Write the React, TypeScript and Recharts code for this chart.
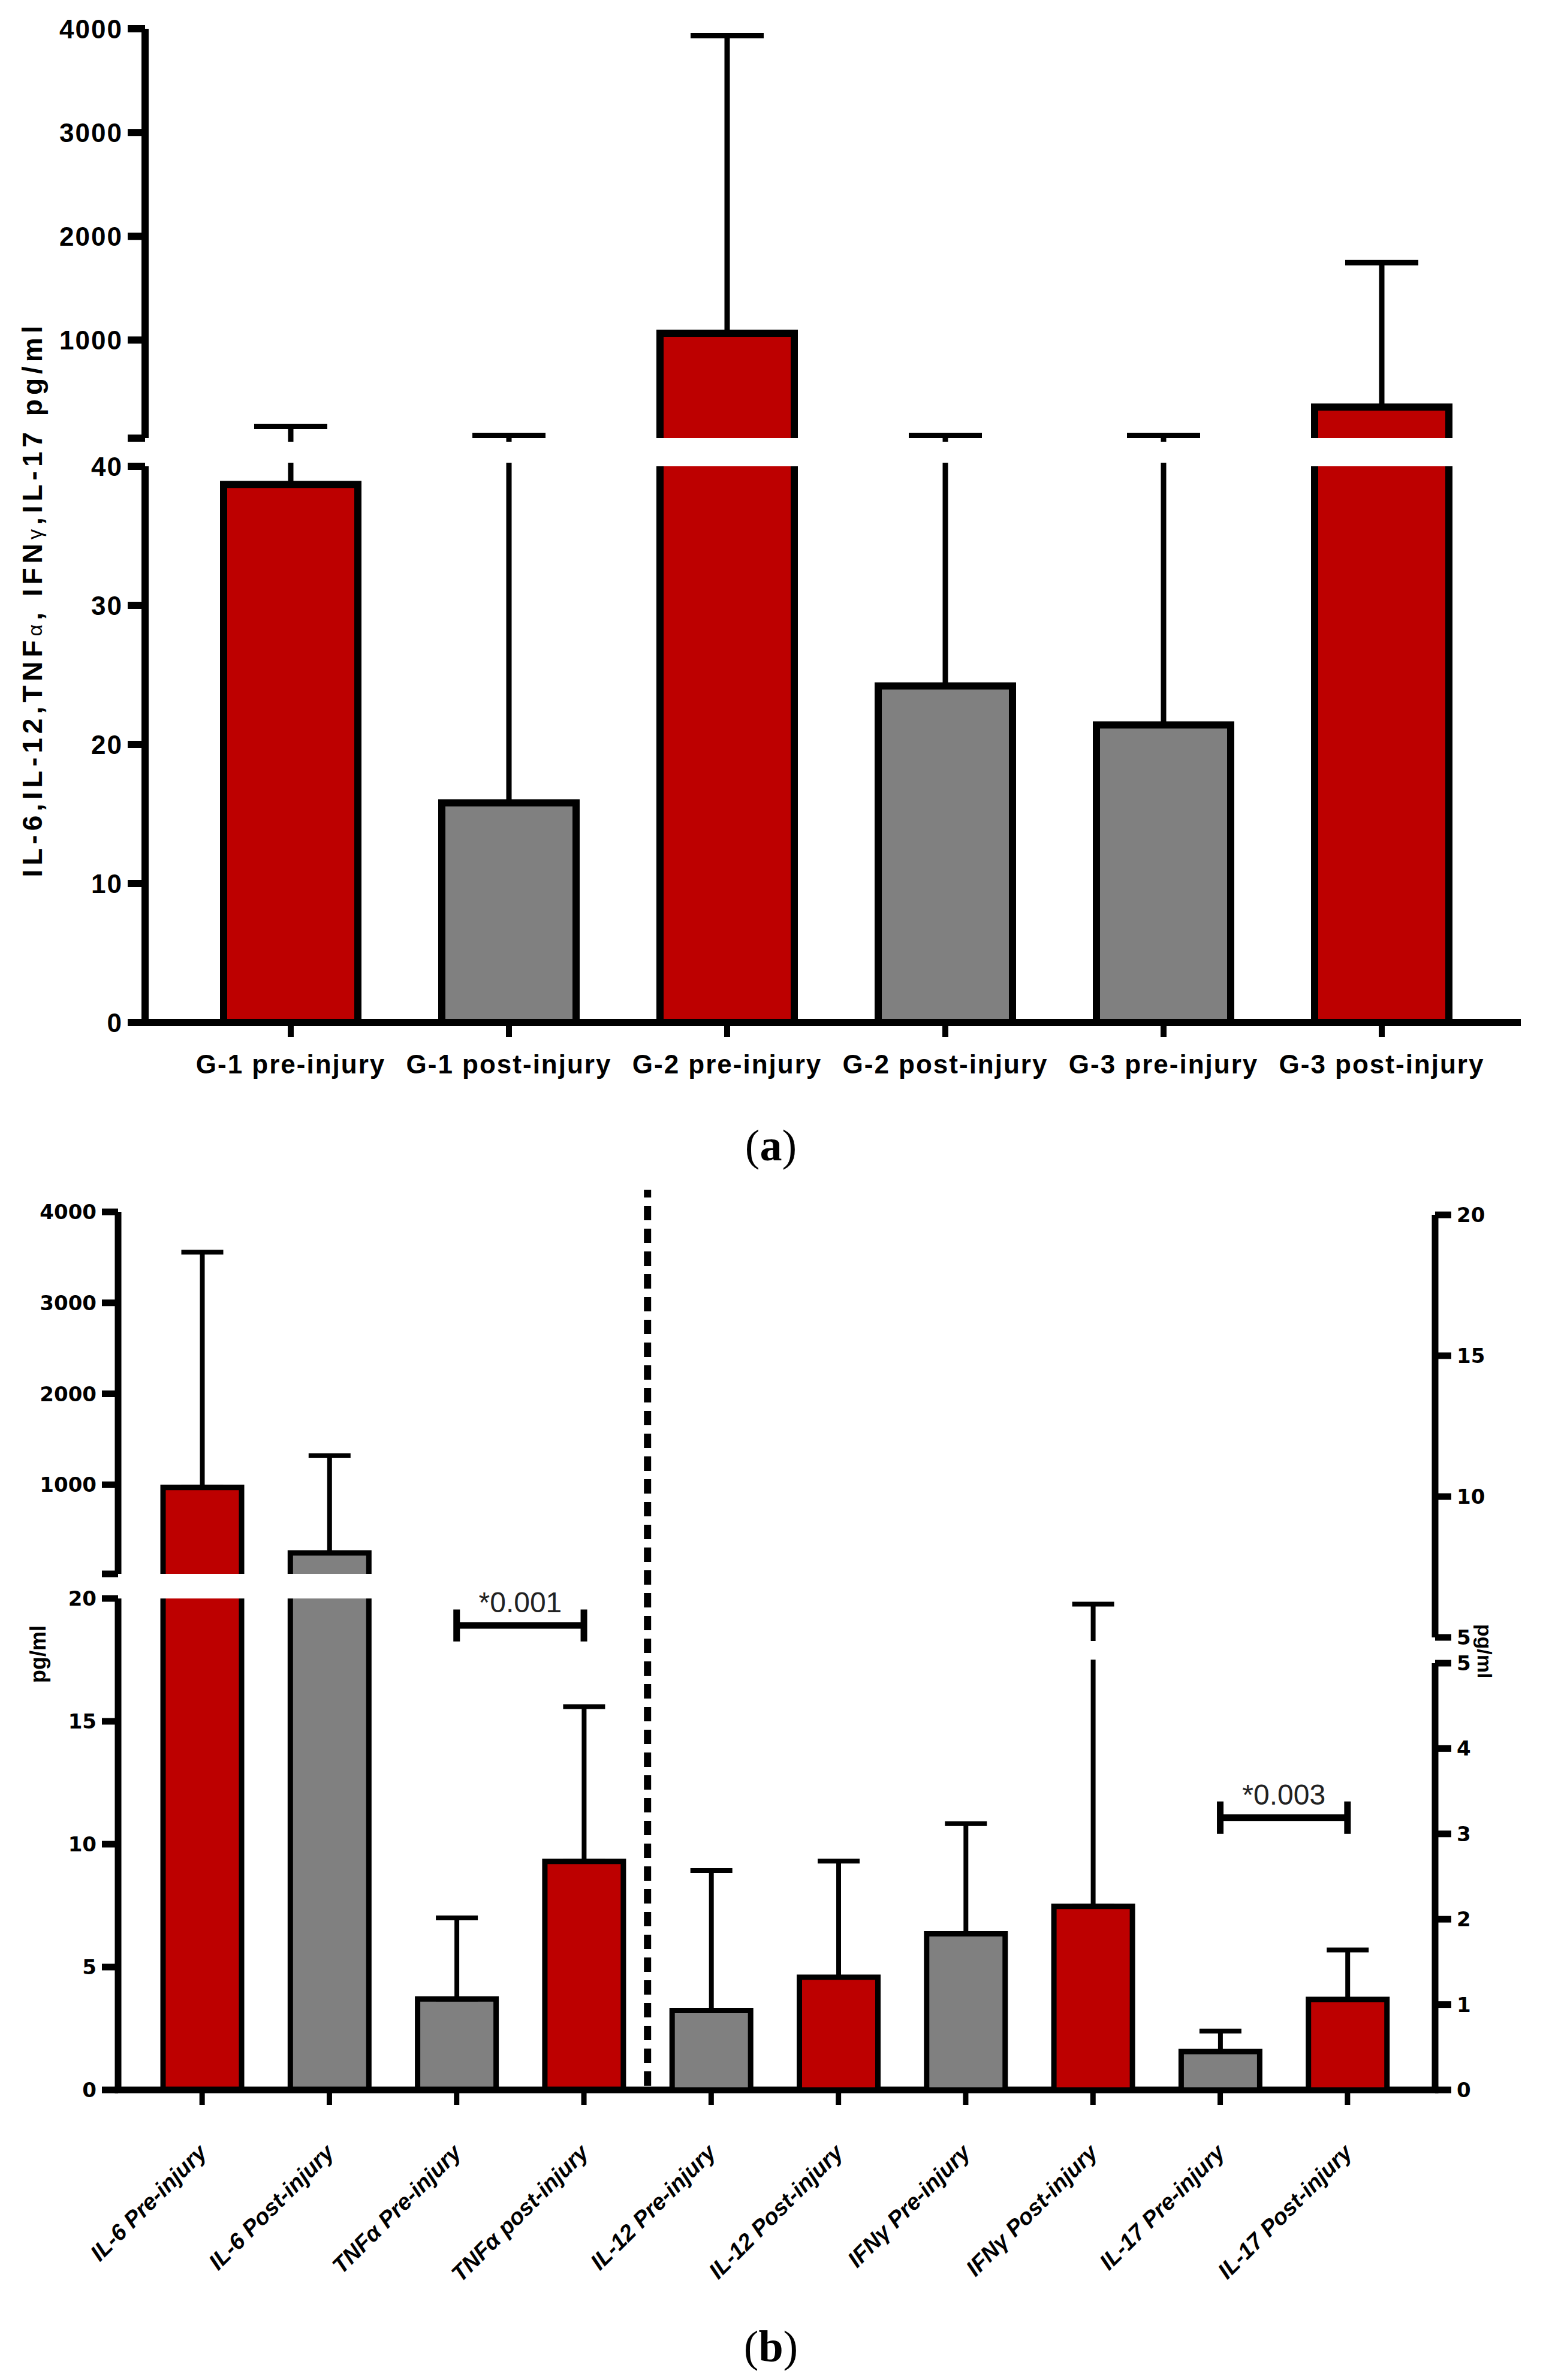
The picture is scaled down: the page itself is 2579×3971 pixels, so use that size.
import React from 'react';
import { BarChart, Bar, Cell, ErrorBar, XAxis, YAxis, ReferenceLine } from 'recharts';

// panel (a): one cytokine pool, three groups before / after injury
const GROUPS_A = [
  'G-1 pre-injury',
  'G-1 post-injury',
  'G-2 pre-injury',
  'G-2 post-injury',
  'G-3 pre-injury',
  'G-3 post-injury',
];
const MEAN_A = [38.7, 15.8, 1066, 24.2, 21.4, 354];
const UPPER_A = [168, 81, 3934, 81, 81, 1746]; // top of the error whisker
const LOW_TICKS_A = [0, 10, 20, 30, 40];
const HIGH_TICKS_A = [55, 1000, 2000, 3000, 4000];

// panel (b): each cytokine before / after injury
const MARKERS_B = [
  'IL-6 Pre-injury',
  'IL-6 Post-injury',
  'TNFα Pre-injury',
  'TNFα post-injury',
  'IL-12 Pre-injury',
  'IL-12 Post-injury',
  'IFNγ Pre-injury',
  'IFNγ Post-injury',
  'IL-17 Pre-injury',
  'IL-17 Post-injury',
];
const MEAN_B = [970, 250, 3.7, 9.3, 0.93, 1.32, 1.83, 2.15, 0.45, 1.06];
const UPPER_B = [3557, 1320, 7.0, 15.6, 2.57, 2.68, 3.12, 6.18, 0.69, 1.64];
const LEFT_AXIS_COUNT_B = 4; // first four markers use the left axis
const LEFT_LOW_TICKS_B = [0, 5, 10, 15, 20];
const LEFT_HIGH_TICKS_B = [20, 1000, 2000, 3000, 4000];
const RIGHT_LOW_TICKS_B = [0, 1, 2, 3, 4, 5];
const RIGHT_HIGH_TICKS_B = [5, 10, 15, 20];
const SIG_LEFT_B = { from: 'TNFα Pre-injury', to: 'TNFα post-injury', y: 18.9, text: '*0.001' };
const SIG_RIGHT_B = { from: 'IL-17 Pre-injury', to: 'IL-17 Post-injury', y: 3.19, text: '*0.003' };

// styles
const RED = '#bd0000';
const GREY = '#808080';
const FILL_A = [RED, GREY, RED, GREY, GREY, RED];
const FILL_B = [RED, GREY, GREY, RED, GREY, RED, GREY, RED, GREY, RED];
const W = 2579;
const YW = 100; // space given to a visible y axis

type Row = { name: string; mean: number | null; range: number[] | null; err: number[] | null };

// rows for one segment of a broken axis; upper segments draw bars as ranges from far below
function buildRows(
  names: string[], means: number[], uppers: number[], keep: (i: number) => boolean,
  domain: number[], upperSeg: boolean,
): Row[] {
  const [lo, hi] = domain;
  const base = lo - (hi - lo);
  return names.map((name, i) => {
    const v = means[i];
    const up = uppers[i];
    if (!keep(i)) return { name, mean: null, range: null, err: null };
    if (!upperSeg) return { name, mean: v, range: null, err: [0, up - v] };
    if (up < lo) return { name, mean: v, range: [base, v], err: null };
    // whisker coming up from a bar below the break: start it far below so no cap shows
    return { name, mean: v, range: [base, v], err: [v < lo ? v - base : 0, up - v] };
  });
}

const tickA = { fontSize: 44, fontWeight: 700, fill: '#000', fontFamily: 'Liberation Sans', letterSpacing: 2 };
const tickB = { fontSize: 34, fontWeight: 700, fill: '#000', fontFamily: 'DejaVu Sans' };

function SlantTick(props: any) {
  const { x, y, payload } = props;
  return (
    <g transform={`translate(${x + 10},${y + 82})`}>
      <text
        transform="rotate(-45)"
        textAnchor="end"
        fontFamily="Liberation Sans"
        fontWeight={700}
        fontStyle="italic"
        fontSize={38}
        fill="#000"
      >
        {payload.value}
      </text>
    </g>
  );
}

function chartMargin(top: number, height: number, plot: any, side: string | null, withX: boolean) {
  return {
    top: plot.t - top,
    bottom: top + height - plot.b - (withX ? 1 : 0),
    left: plot.l - (side === 'left' ? YW : 0),
    right: W - plot.r - (side === 'right' ? YW : 0),
  };
}

function Segment(props: any) {
  const {
    top, height, plot, domain, ticks, blankTick, side, rows, fills, useRange,
    padding, barSize, barStroke, capHalf, whisker, axisW, tickStyle, tickSize,
    tickMargin, clip, xAxis,
  } = props;
  const margin = chartMargin(top, height, plot, side, !!xAxis);
  return (
    <div style={{ position: 'absolute', left: 0, top, width: W, height, overflow: 'hidden', clipPath: clip }}>
      <BarChart width={W} height={height} data={rows} margin={margin}>
        <XAxis
          dataKey="name"
          hide={!xAxis}
          height={1}
          padding={padding}
          interval={0}
          axisLine={{ stroke: '#000', strokeWidth: axisW, strokeLinecap: 'square' }}
          tickLine={{ stroke: '#000', strokeWidth: axisW - 2 }}
          {...(xAxis || {})}
        />
        <YAxis
          orientation={side}
          width={YW}
          type="number"
          domain={domain}
          allowDataOverflow
          ticks={ticks}
          interval={0}
          tickFormatter={(v: number) => (v === blankTick ? '' : String(v))}
          axisLine={{ stroke: '#000', strokeWidth: axisW }}
          tickLine={{ stroke: '#000', strokeWidth: axisW }}
          tickSize={tickSize}
          tickMargin={tickMargin}
          tick={tickStyle}
        />
        <Bar
          dataKey={useRange ? 'range' : 'mean'}
          barSize={barSize}
          stroke="#000"
          strokeWidth={barStroke}
          isAnimationActive={false}
        >
          {rows.map((r: Row, i: number) => {
            // a bar that ends below this segment only lends its whisker
            const ghost = useRange && r.mean != null && r.mean < domain[0];
            return <Cell key={r.name} fill={ghost ? 'none' : fills[i]} stroke={ghost ? 'none' : '#000'} />;
          })}
          <ErrorBar
            dataKey="err"
            direction="y"
            width={capHalf}
            stroke="#000"
            strokeWidth={whisker}
            isAnimationActive={false}
          />
        </Bar>
      </BarChart>
    </div>
  );
}

// unclipped layer for significance brackets, sharing a segment's scales
function Overlay(props: any) {
  const { top, height, plot, domain, side, padding, rows, children } = props;
  const margin = chartMargin(top, height, plot, null, false);
  return (
    <div style={{ position: 'absolute', left: 0, top, width: W, height }}>
      <BarChart width={W} height={height} data={rows} margin={margin}>
        <XAxis dataKey="name" hide padding={padding} />
        <YAxis orientation={side} hide type="number" domain={domain} allowDataOverflow />
        <Bar dataKey="mean" isAnimationActive={false} />
        {children}
      </BarChart>
    </div>
  );
}

function bracket(s: any, half: number) {
  const line = { stroke: '#000', strokeWidth: 11 };
  return [
    <ReferenceLine
      key={s.text + 'h'}
      segment={[{ x: s.from, y: s.y }, { x: s.to, y: s.y }]}
      {...line}
      label={{ value: s.text, position: 'top', offset: 22, fontSize: 48, fill: '#222', fontFamily: 'Liberation Sans' }}
    />,
    <ReferenceLine key={s.text + 'a'} segment={[{ x: s.from, y: s.y - half }, { x: s.from, y: s.y + half }]} {...line} />,
    <ReferenceLine key={s.text + 'b'} segment={[{ x: s.to, y: s.y - half }, { x: s.to, y: s.y + half }]} {...line} />,
  ];
}

const textBase: React.CSSProperties = { position: 'absolute', whiteSpace: 'nowrap', color: '#000' };

export default function App() {
  // panel (a)
  const A_L = 242;
  const A_R = 2531;
  const aHighDomain = [55, 4000];
  const aLowDomain = [0, 40];
  const aCommon = {
    side: 'left', fills: FILL_A, padding: { left: 61, right: 44 }, barSize: 224, barStroke: 12,
    capHalf: 61, whisker: 9, axisW: 12, tickStyle: tickA, tickSize: 29, tickMargin: 8,
  };

  // panel (b)
  const B_L = 197;
  const B_R = 2394;
  const bPad = { left: 34, right: 40 };
  const blHigh = [20, 4000];
  const blLow = [0, 20];
  const brHigh = [5, 20];
  const brLow = [0, 5];
  const isLeft = (i: number) => i < LEFT_AXIS_COUNT_B;
  const isRight = (i: number) => i >= LEFT_AXIS_COUNT_B;
  const bCommon = {
    fills: FILL_B, padding: bPad, barSize: 131, barStroke: 9,
    capHalf: 35, whisker: 8, axisW: 11, tickStyle: tickB, tickSize: 27, tickMargin: 9,
  };
  const emptyB = buildRows(MARKERS_B, MEAN_B, UPPER_B, () => false, blLow, false);
  const dividerRows = MARKERS_B.map((name, i) => ({ name, pos: i + 0.5 }));

  return (
    <div style={{ position: 'absolute', left: 0, top: 0, width: W, height: 3971, background: '#fff', overflow: 'hidden' }}>
      {/* (a) upper segment */}
      <Segment
        {...aCommon}
        top={0}
        height={737}
        plot={{ t: 48, b: 731, l: A_L, r: A_R }}
        domain={aHighDomain}
        ticks={HIGH_TICKS_A}
        blankTick={55}
        useRange
        rows={buildRows(GROUPS_A, MEAN_A, UPPER_A, () => true, aHighDomain, true)}
      />
      {/* (a) lower segment */}
      <Segment
        {...aCommon}
        top={740}
        height={1120}
        plot={{ t: 778, b: 1706, l: A_L, r: A_R }}
        domain={aLowDomain}
        ticks={LOW_TICKS_A}
        rows={buildRows(GROUPS_A, MEAN_A, UPPER_A, () => true, aLowDomain, false)}
        clip="polygon(0 0, 250px 0, 250px 32px, 100% 32px, 100% 100%, 0 100%)"
        xAxis={{ tickSize: 24, tickMargin: 30, tick: tickA }}
      />
      <div
        style={{
          ...textBase,
          left: 54,
          top: 1000,
          transform: 'translate(-50%, -50%) rotate(-90deg)',
          fontFamily: 'Liberation Sans',
          fontWeight: 700,
          fontSize: 46,
          letterSpacing: 7,
        }}
      >
        IL-6,IL-12,TNF<span style={{ fontWeight: 400, fontSize: 34 }}>α</span>, IFN
        <span style={{ fontWeight: 400, fontSize: 34 }}>γ</span>,IL-17 pg/ml
      </div>
      <div style={{ ...textBase, left: 1286, top: 1911, transform: 'translate(-50%, -50%)', fontFamily: 'Liberation Serif', fontSize: 74 }}>
        (<b>a</b>)
      </div>

      {/* (b) dashed divider between left-axis and right-axis markers */}
      <div style={{ position: 'absolute', left: 0, top: 1975, width: W, height: 1515 }}>
        <BarChart width={W} height={1515} data={dividerRows} margin={{ top: 10, bottom: 10, left: B_L, right: W - B_R }}>
          <XAxis type="number" dataKey="pos" hide domain={[0, MARKERS_B.length]} allowDataOverflow padding={bPad} />
          <YAxis hide domain={[0, 1]} allowDataOverflow />
          <ReferenceLine x={LEFT_AXIS_COUNT_B} stroke="#000" strokeWidth={12} strokeDasharray="24 14" />
        </BarChart>
      </div>

      {/* (b) left axis, upper segment */}
      <Segment
        {...bCommon}
        side="left"
        top={1990}
        height={642}
        plot={{ t: 2022, b: 2626, l: B_L, r: B_R }}
        domain={blHigh}
        ticks={LEFT_HIGH_TICKS_B}
        blankTick={20}
        useRange
        rows={buildRows(MARKERS_B, MEAN_B, UPPER_B, isLeft, blHigh, true)}
      />
      {/* (b) left axis, lower segment with the category axis */}
      <Segment
        {...bCommon}
        side="left"
        top={2600}
        height={1371}
        plot={{ t: 2667, b: 3487, l: B_L, r: B_R }}
        domain={blLow}
        ticks={LEFT_LOW_TICKS_B}
        rows={buildRows(MARKERS_B, MEAN_B, UPPER_B, isLeft, blLow, false)}
        clip="polygon(0 0, 205px 0, 205px 61px, 100% 61px, 100% 100%, 0 100%)"
        xAxis={{ tickSize: 25, tickMargin: 0, tick: <SlantTick /> }}
      />
      {/* (b) right axis, upper segment */}
      <Segment
        {...bCommon}
        side="right"
        top={1990}
        height={770}
        plot={{ t: 2027, b: 2732, l: B_L, r: B_R }}
        domain={brHigh}
        ticks={RIGHT_HIGH_TICKS_B}
        useRange
        rows={buildRows(MARKERS_B, MEAN_B, UPPER_B, isRight, brHigh, true)}
        clip="polygon(0 0, 100% 0, 100% 100%, 2400px 100%, 2400px 748px, 0 748px)"
      />
      {/* (b) right axis, lower segment */}
      <Segment
        {...bCommon}
        side="right"
        top={2600}
        height={1371}
        plot={{ t: 2775, b: 3487, l: B_L, r: B_R }}
        domain={brLow}
        ticks={RIGHT_LOW_TICKS_B}
        rows={buildRows(MARKERS_B, MEAN_B, UPPER_B, isRight, brLow, false)}
        clip="polygon(0 169px, 2388px 169px, 2388px 0, 100% 0, 100% 100%, 0 100%)"
      />
      {/* significance brackets */}
      <Overlay top={2600} height={900} plot={{ t: 2667, b: 3487, l: B_L, r: B_R }} domain={blLow} side="left" padding={bPad} rows={emptyB}>
        {bracket(SIG_LEFT_B, 0.65)}
      </Overlay>
      <Overlay top={2600} height={900} plot={{ t: 2775, b: 3487, l: B_L, r: B_R }} domain={brLow} side="right" padding={bPad} rows={emptyB}>
        {bracket(SIG_RIGHT_B, 0.19)}
      </Overlay>
      <div
        style={{
          ...textBase,
          left: 64,
          top: 2760,
          transform: 'translate(-50%, -50%) rotate(-90deg)',
          fontFamily: 'Liberation Sans',
          fontWeight: 700,
          fontSize: 36,
        }}
      >
        pg/ml
      </div>
      <div
        style={{
          ...textBase,
          left: 2476,
          top: 2755,
          transform: 'translate(-50%, -50%) rotate(90deg)',
          fontFamily: 'Liberation Sans',
          fontWeight: 700,
          fontSize: 34,
        }}
      >
        pg/ml
      </div>
      <div style={{ ...textBase, left: 1286, top: 3915, transform: 'translate(-50%, -50%)', fontFamily: 'Liberation Serif', fontSize: 74 }}>
        (<b>b</b>)
      </div>
    </div>
  );
}
